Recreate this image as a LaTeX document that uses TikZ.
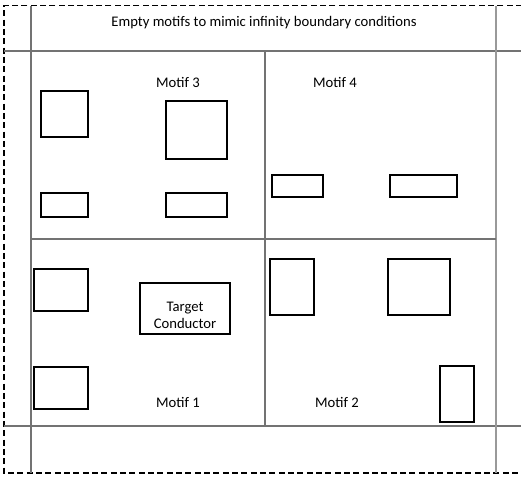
\documentclass[tikz,border=0pt]{standalone}
\usepackage{fontspec}
\setmainfont{Carlito}
\begin{document}
\begin{tikzpicture}[x=0.75pt,y=-0.75pt,
  grid/.style={draw=black!55,line width=0.8pt},
  outline/.style={draw=black,line width=1.2pt,dash pattern=on 4.5pt off 2.5pt},
  cond/.style={draw=black,line width=1.5pt,inner sep=0pt},
  sz/.style 2 args={minimum width=#1*0.75pt,minimum height=#2*0.75pt},
  lbl/.style={font=\fontsize{11pt}{12.75pt}\selectfont,inner sep=0pt},
]
\useasboundingbox (0,0) rectangle (521,476);
\fill[white] (0,0) rectangle (521,476);

% boundary frame
\coordinate (ftr) at (522,5.5);
\coordinate (ftl) at (4,5.5);
\coordinate (fbl) at (4,472.7);
\coordinate (fbr) at (522,472.7);
\draw[outline] (ftr) -- (ftl) -- (fbl) -- (fbr);

% outer ring of empty motifs
\coordinate (h1l) at (4,51);   \coordinate (h1r) at (521,51);
\coordinate (h2l) at (4,426);  \coordinate (h2r) at (521,426);
\coordinate (v1t) at (31,5.5); \coordinate (v1b) at (31,472.7);
\coordinate (v2t) at (496,5.5);\coordinate (v2b) at (496,472.7);
\draw[grid] (h1l) -- (h1r);
\draw[grid] (h2l) -- (h2r);
\draw[grid] (v1t) -- (v1b);
\draw[grid,draw=black!40] (v2t) -- (v2b);

% inner 2x2 motif split
\coordinate (mt) at (265,51);  \coordinate (mb) at (265,426);
\coordinate (ml) at (31,239);  \coordinate (mr) at (496,239);
\draw[grid] (mt) -- (mb);
\draw[grid] (ml) -- (mr);

\node[lbl] (title) at (264,23) {Empty motifs to mimic infinity boundary conditions};

% motif 3
\node[lbl] (m3) at (178,82) {Motif 3};
\node[cond,sz={47}{46}] (c31) at (64.5,114) {};
\node[cond,sz={61}{58}] (c32) at (196.5,130) {};
\node[cond,sz={47}{24}] (c33) at (64.5,205) {};
\node[cond,sz={61}{24}] (c34) at (196.5,205) {};

% motif 4
\node[lbl] (m4) at (335,82) {Motif 4};
\node[cond,sz={51}{22}] (c41) at (297.5,185.5) {};
\node[cond,sz={67}{22}] (c42) at (423,185.5) {};

% motif 1
\node[lbl] (m1) at (178,402) {Motif 1};
\node[cond,sz={54}{42}] (c11) at (61,290) {};
\node[cond,sz={90}{51}] (tgt) at (185,308) {};
\node[lbl,align=center] (tgtlbl) at (185,315) {Target\\Conductor};
\node[cond,sz={54}{42.5}] (c12) at (61,388) {};

% motif 2
\node[lbl] (m2) at (337,402) {Motif 2};
\node[cond,sz={44}{56}] (c21) at (291.5,287) {};
\node[cond,sz={62}{56}] (c22) at (418.5,287) {};
\node[cond,sz={34}{56}] (c23) at (457,393.5) {};
\end{tikzpicture}
\end{document}
